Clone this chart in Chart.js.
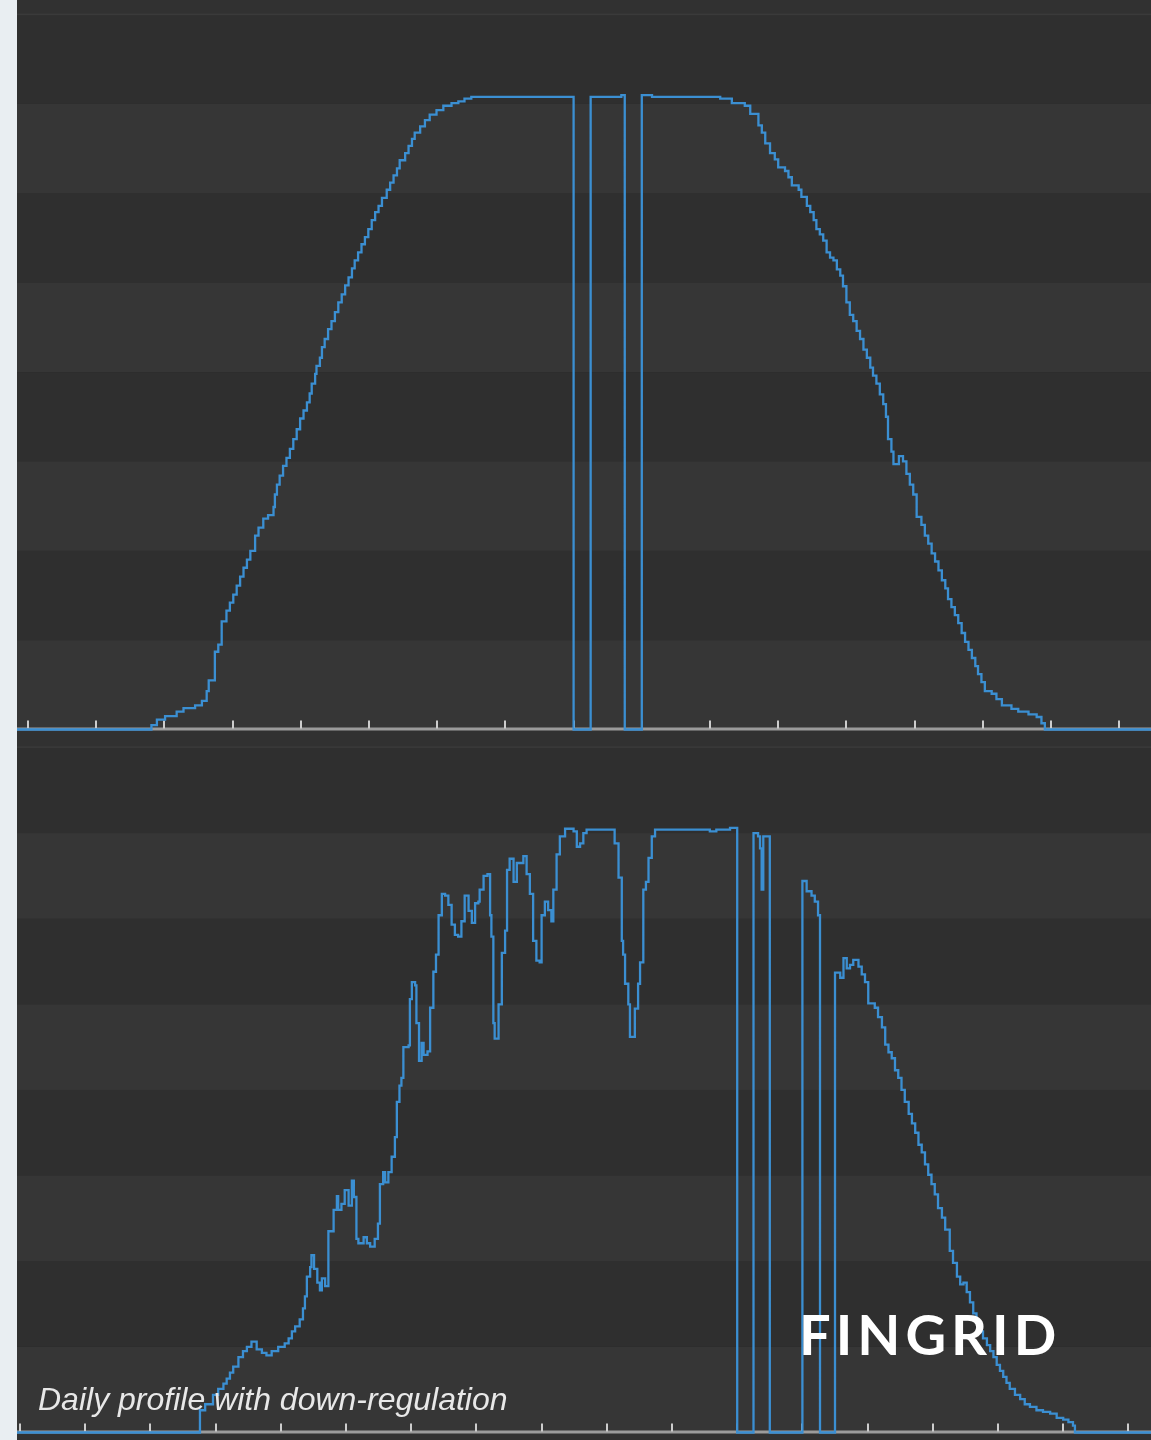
<!DOCTYPE html>
<html>
<head>
<meta charset="utf-8">
<script src="https://cdn.jsdelivr.net/npm/chart.js@4.4.1/dist/chart.umd.min.js"></script>
<style>
  html, body { margin: 0; padding: 0; }
  body { width: 1151px; height: 1440px; background: #313131; position: relative; overflow: hidden; }
  #side { position: absolute; left: 0; top: 0; width: 17px; height: 1440px; background: #e9eef2; }
  canvas { position: absolute; left: 17px; }
  #chart1 { top: 0; }
  #chart2 { top: 740px; }
  #caption { position: absolute; left: 38px; top: 1383px; font: italic 32px/32px "Liberation Sans", Arial, sans-serif; color: #e8e8e8; white-space: nowrap; }
  #logo { position: absolute; left: 799px; top: 1306px; font: 700 56px/56px Lato, "Open Sans", sans-serif; color: #ffffff; letter-spacing: 5px; white-space: nowrap; }
</style>
</head>
<body>
<div id="side"></div>
<canvas id="chart1" width="1134" height="740"></canvas>
<canvas id="chart2" width="1134" height="700"></canvas>
<div id="caption">Daily profile with down-regulation</div>
<div id="logo">FINGRID</div>
<script>
// hour of day where each step starts; value holds until the next one
var topTimes = [6.81, 6.89, 7.01, 7.18, 7.28, 7.45, 7.55, 7.62, 7.65, 7.74,
  7.79, 7.84, 7.91, 7.96, 8.01, 8.06, 8.11, 8.16, 8.21, 8.26,
  8.33, 8.38, 8.45, 8.52, 8.6, 8.62, 8.65, 8.69, 8.74, 8.79,
  8.84, 8.89, 8.94, 8.99, 9.04, 9.09, 9.13, 9.16, 9.21, 9.23,
  9.28, 9.31, 9.35, 9.4, 9.45, 9.5, 9.55, 9.6, 9.65, 9.7,
  9.75, 9.79, 9.84, 9.89, 9.94, 9.99, 10.04, 10.09, 10.14, 10.19,
  10.26, 10.31, 10.36, 10.41, 10.45, 10.53, 10.58, 10.63, 10.67, 10.75,
  10.82, 10.89, 10.99, 11.09, 11.21, 11.31, 11.4, 11.5, 13.0, 13.25,
  13.7, 13.75, 14.0, 14.15, 15.15, 15.32, 15.51, 15.59, 15.71, 15.76,
  15.81, 15.88, 15.95, 16.0, 16.1, 16.15, 16.2, 16.3, 16.34, 16.42,
  16.47, 16.52, 16.56, 16.61, 16.66, 16.71, 16.76, 16.81, 16.86, 16.91,
  16.95, 17.0, 17.05, 17.1, 17.15, 17.2, 17.25, 17.3, 17.35, 17.39,
  17.44, 17.49, 17.54, 17.58, 17.61, 17.66, 17.69, 17.77, 17.83, 17.88,
  17.93, 17.98, 18.03, 18.1, 18.15, 18.2, 18.25, 18.3, 18.35, 18.4,
  18.45, 18.49, 18.54, 18.59, 18.64, 18.69, 18.74, 18.79, 18.84, 18.89,
  18.93, 18.98, 19.03, 19.13, 19.2, 19.28, 19.42, 19.52, 19.67, 19.79,
  19.86, 19.91];
var topValues = [0.05, 0.11, 0.15, 0.2, 0.24, 0.27, 0.32, 0.43, 0.55, 0.87,
  0.95, 1.21, 1.33, 1.42, 1.51, 1.61, 1.71, 1.81, 1.9, 2.0,
  2.17, 2.26, 2.36, 2.4, 2.49, 2.63, 2.74, 2.84, 2.95, 3.04,
  3.14, 3.25, 3.36, 3.48, 3.57, 3.66, 3.76, 3.87, 3.98, 4.07,
  4.16, 4.28, 4.37, 4.48, 4.57, 4.67, 4.78, 4.87, 4.97, 5.06,
  5.16, 5.25, 5.34, 5.43, 5.51, 5.6, 5.7, 5.79, 5.86, 5.95,
  6.04, 6.12, 6.2, 6.28, 6.37, 6.45, 6.53, 6.61, 6.68, 6.75,
  6.82, 6.88, 6.93, 6.98, 7.01, 7.03, 7.06, 7.08, 0, 7.08,
  7.1, 0, 7.1, 7.08, 7.06, 7.01, 6.98, 6.89, 6.76, 6.68,
  6.56, 6.45, 6.38, 6.29, 6.25, 6.18, 6.09, 6.04, 5.96, 5.86,
  5.79, 5.7, 5.6, 5.54, 5.47, 5.34, 5.28, 5.25, 5.15, 5.08,
  4.96, 4.78, 4.64, 4.57, 4.46, 4.37, 4.25, 4.16, 4.05, 3.96,
  3.87, 3.75, 3.64, 3.5, 3.25, 3.11, 2.97, 3.06, 3.0, 2.86,
  2.74, 2.63, 2.38, 2.29, 2.17, 2.08, 1.97, 1.88, 1.78, 1.67,
  1.58, 1.46, 1.37, 1.28, 1.19, 1.08, 0.98, 0.89, 0.8, 0.71,
  0.62, 0.53, 0.43, 0.4, 0.34, 0.27, 0.23, 0.2, 0.17, 0.14,
  0.07, 0];

var bottomTimes = [6.76, 6.84, 6.96, 7.04, 7.12, 7.17, 7.22, 7.27, 7.35, 7.42,
  7.48, 7.55, 7.63, 7.71, 7.78, 7.86, 7.96, 8.06, 8.12, 8.17,
  8.22, 8.29, 8.34, 8.37, 8.4, 8.45, 8.47, 8.51, 8.56, 8.6,
  8.63, 8.68, 8.73, 8.81, 8.86, 8.88, 8.93, 8.98, 9.04, 9.09,
  9.12, 9.16, 9.19, 9.27, 9.32, 9.37, 9.44, 9.49, 9.52, 9.57,
  9.6, 9.65, 9.7, 9.75, 9.78, 9.82, 9.85, 9.88, 9.96, 9.98,
  10.01, 10.06, 10.08, 10.12, 10.16, 10.19, 10.25, 10.29, 10.34, 10.38,
  10.42, 10.47, 10.52, 10.57, 10.62, 10.67, 10.72, 10.77, 10.82, 10.88,
  10.93, 10.98, 11.03, 11.05, 11.11, 11.17, 11.21, 11.23, 11.26, 11.28,
  11.34, 11.39, 11.44, 11.47, 11.51, 11.57, 11.62, 11.72, 11.77, 11.82,
  11.87, 11.92, 11.97, 12.0, 12.05, 12.1, 12.15, 12.18, 12.23, 12.28,
  12.36, 12.49, 12.54, 12.59, 12.64, 12.69, 13.12, 13.18, 13.23, 13.25,
  13.28, 13.33, 13.355, 13.43, 13.48, 13.51, 13.56, 13.6, 13.64, 13.69,
  13.74, 14.58, 14.68, 14.89, 15.0, 15.25, 15.32, 15.35, 15.375, 15.4,
  15.5, 16.0, 16.065, 16.14, 16.19, 16.24, 16.27, 16.5, 16.58, 16.63,
  16.68, 16.73, 16.78, 16.86, 16.91, 16.96, 17.01, 17.11, 17.16, 17.22,
  17.27, 17.32, 17.37, 17.42, 17.47, 17.52, 17.57, 17.63, 17.68, 17.73,
  17.78, 17.83, 17.88, 17.93, 17.98, 18.03, 18.08, 18.14, 18.19, 18.26,
  18.31, 18.37, 18.42, 18.47, 18.52, 18.57, 18.62, 18.67, 18.72, 18.77,
  18.83, 18.88, 18.93, 18.98, 19.03, 19.08, 19.13, 19.18, 19.26, 19.34,
  19.41, 19.49, 19.59, 19.69, 19.8, 19.9, 20.0, 20.08, 20.15, 20.18];
var bottomValues = [0.26, 0.33, 0.44, 0.51, 0.57, 0.63, 0.7, 0.77, 0.88, 0.95,
  1.0, 1.06, 0.97, 0.93, 0.9, 0.95, 1.0, 1.04, 1.1, 1.18,
  1.24, 1.32, 1.45, 1.59, 1.82, 1.93, 2.07, 1.91, 1.75, 1.66,
  1.8, 1.71, 2.35, 2.6, 2.76, 2.6, 2.67, 2.83, 2.65, 2.94,
  2.75, 2.26, 2.21, 2.28, 2.21, 2.17, 2.26, 2.44, 2.9, 3.04,
  2.92, 3.04, 3.22, 3.45, 3.86, 4.05, 4.14, 4.5, 4.52, 5.06,
  5.26, 5.22, 4.78, 4.34, 4.55, 4.41, 4.45, 4.96, 5.38, 5.58,
  6.04, 6.29, 6.27, 6.16, 5.93, 5.81, 5.79, 5.97, 6.27, 6.09,
  5.95, 6.18, 6.2, 6.34, 6.5, 6.52, 6.04, 5.79, 4.78, 4.6,
  5.0, 5.6, 5.86, 6.57, 6.7, 6.43, 6.65, 6.73, 6.52, 6.29,
  5.74, 5.51, 5.49, 6.04, 6.2, 6.1, 5.97, 6.34, 6.75, 6.96,
  7.05, 7.02, 6.84, 6.88, 7.0, 7.04, 6.88, 6.48, 5.74, 5.58,
  5.24, 5.0, 4.62, 4.95, 5.24, 5.49, 6.34, 6.43, 6.71, 6.96,
  7.04, 7.02, 7.04, 7.06, 0, 7.0, 6.96, 6.82, 6.34, 6.96,
  0, 6.44, 6.32, 6.27, 6.2, 6.04, 0, 5.37, 5.31, 5.54,
  5.42, 5.46, 5.52, 5.44, 5.35, 5.26, 5.01, 4.96, 4.85, 4.73,
  4.53, 4.44, 4.37, 4.23, 4.14, 4.0, 3.86, 3.72, 3.61, 3.5,
  3.36, 3.27, 3.13, 3.01, 2.9, 2.78, 2.62, 2.51, 2.37, 2.12,
  1.98, 1.82, 1.73, 1.75, 1.64, 1.52, 1.39, 1.28, 1.18, 1.1,
  1.02, 0.95, 0.88, 0.79, 0.72, 0.65, 0.58, 0.51, 0.44, 0.39,
  0.33, 0.3, 0.26, 0.24, 0.22, 0.17, 0.15, 0.12, 0.08, 0];

// visible hour range of each panel, ticks every full hour
var topRange = [4.8387, 21.4663];
var bottomRange = [3.954, 21.3466];

console.log(topTimes.length, topValues.length, bottomTimes.length, bottomValues.length);

function toPoints(times, values, range) {
  var pts = [{x: range[0], y: 0}];
  for (var i = 0; i < times.length; i++) {
    pts.push({x: times[i], y: values[i]});
  }
  pts.push({x: range[1], y: 0});
  return pts;
}

// alternating bands, axis line and short inner tick marks
var bandsPlugin = {
  id: 'bands',
  beforeDatasetsDraw: function(chart) {
    var ctx = chart.ctx, area = chart.chartArea;
    var x = chart.scales.x, y = chart.scales.y;
    var w = area.right - area.left;
    ctx.save();
    for (var i = 0; i < 8; i++) {
      var t = y.getPixelForValue(i + 1), b = y.getPixelForValue(i);
      ctx.fillStyle = i % 2 === 0 ? '#363636' : '#2f2f2f';
      ctx.fillRect(area.left, t, w, b - t);
    }
    ctx.fillStyle = '#3a3a3a';
    ctx.fillRect(area.left, y.getPixelForValue(8) - 1, w, 1.5);

    var y0 = y.getPixelForValue(0);
    ctx.strokeStyle = '#9b9b9b';
    ctx.lineWidth = 3;
    ctx.beginPath();
    ctx.moveTo(area.left, y0 - 0.5);
    ctx.lineTo(area.right, y0 - 0.5);
    ctx.stroke();

    ctx.fillStyle = '#cdcdcd';
    x.ticks.forEach(function(tk) {
      if (!Number.isInteger(tk.value)) return;
      var px = x.getPixelForValue(tk.value);
      ctx.fillRect(Math.round(px) - 1, y0 - 9, 2, 8);
    });
    ctx.restore();
  }
};

function makeChart(id, times, values, range, pad) {
  return new Chart(document.getElementById(id), {
    type: 'line',
    data: {
      datasets: [{
        data: toPoints(times, values, range),
        borderColor: '#3b8fd2',
        borderWidth: 2.3,
        pointRadius: 0,
        stepped: true,
        fill: false,
        clip: false
      }]
    },
    options: {
      responsive: false,
      animation: false,
      layout: { padding: pad },
      plugins: { legend: { display: false }, tooltip: { enabled: false } },
      scales: {
        x: { type: 'linear', min: range[0], max: range[1], display: false,
             ticks: { stepSize: 1, includeBounds: false } },
        y: { min: 0, max: 8, display: false, ticks: { stepSize: 1 } }
      }
    },
    plugins: [bandsPlugin]
  });
}

var chart1 = makeChart('chart1', topTimes, topValues, topRange, {top: 14.6, bottom: 10.5, left: 0, right: 0});
var chart2 = makeChart('chart2', bottomTimes, bottomValues, bottomRange, {top: 7.4, bottom: 7.5, left: 0, right: 0});
</script>
</body>
</html>
